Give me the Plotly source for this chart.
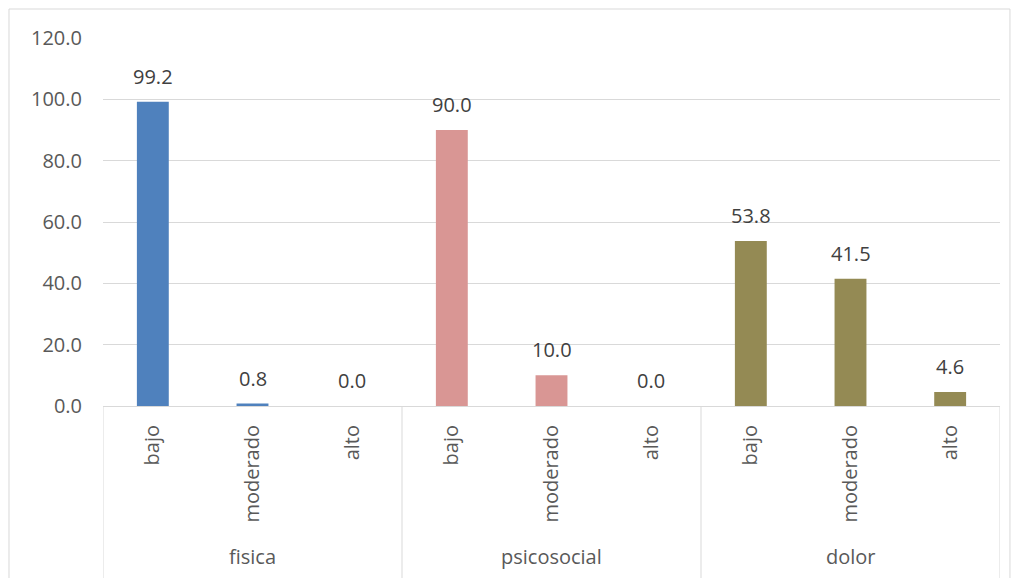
import plotly.graph_objects as go

groups = ["fisica", "psicosocial", "dolor"]
levels = ["bajo", "moderado", "alto"]
values = {
    "fisica": [99.2, 0.8, 0.0],
    "psicosocial": [90.0, 10.0, 0.0],
    "dolor": [53.8, 41.5, 4.6],
}
colors = {"fisica": "#4F81BD", "psicosocial": "#D99694", "dolor": "#948A54"}
y_ticks = [0, 20, 40, 60, 80, 100, 120]

FONT = "Open Sans"
TXT = "#595959"
LBL = "#404040"
GRID = "#D9D9D9"
FS = 20

fig = go.Figure()
tickvals, ticktext = [], []
n = len(levels)
for gi, g in enumerate(groups):
    xs = [gi * n + li for li in range(n)]
    tickvals += xs
    ticktext += levels
    fig.add_trace(go.Bar(
        x=xs, y=values[g], width=0.32, name=g,
        marker=dict(color=colors[g], line=dict(width=0)),
        hoverinfo="x+y",
    ))
    for x, v in zip(xs, values[g]):
        fig.add_annotation(x=x, y=v, xref="x", yref="y", text=f"{v:.1f}",
                           showarrow=False, yanchor="bottom", yshift=10,
                           font=dict(family=FONT, size=FS, color=LBL))
    # group label
    fig.add_annotation(x=gi * n + (n - 1) / 2, y=-0.41, xref="x", yref="paper",
                       text=g, showarrow=False, yanchor="middle",
                       font=dict(family=FONT, size=FS, color=TXT))
    # dividers
    for bx in ([gi * n - 0.5] if gi == 0 else []) + [gi * n + n - 0.5]:
        fig.add_shape(type="line", xref="x", yref="paper", x0=bx, x1=bx,
                      y0=0, y1=-0.6, line=dict(color=GRID, width=1))

fig.update_layout(
    width=1019, height=578,
    margin=dict(l=103, r=19, t=38, b=172),
    paper_bgcolor="white", plot_bgcolor="white",
    showlegend=False, barmode="overlay",
    font=dict(family=FONT, size=FS, color=TXT),
)
fig.update_yaxes(
    range=[0, 120], tickvals=y_ticks, ticktext=[f"{t:.1f}" for t in y_ticks],
    showgrid=True, gridcolor=GRID, gridwidth=1, zeroline=False,
    showline=False, ticks="", ticklabelstandoff=20,
)
fig.update_xaxes(
    range=[-0.5, len(groups) * n - 0.5],
    tickvals=tickvals, ticktext=ticktext, tickangle=-90,
    showline=True, linecolor=GRID, linewidth=1,
    ticks="", showgrid=False, zeroline=False, ticklabelstandoff=10,
)
fig.add_shape(type="rect", xref="paper", yref="paper",
              x0=-0.1048, x1=1.0111, y0=-0.6, y1=1.0788,
              line=dict(color=GRID, width=1), fillcolor="rgba(0,0,0,0)", layer="below")

fig.write_html("out.html")
